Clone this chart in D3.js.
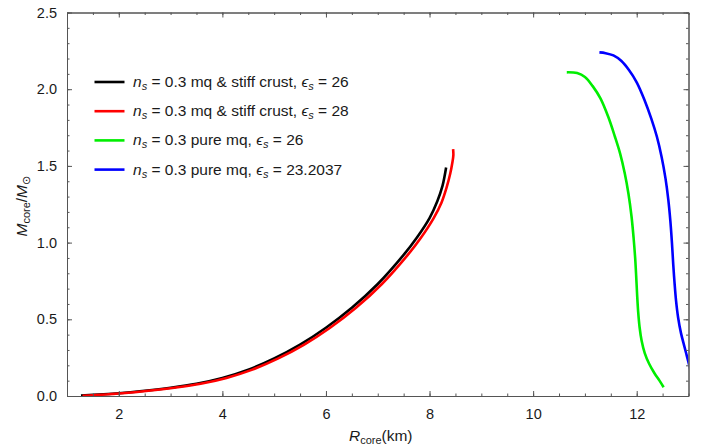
<!DOCTYPE html>
<html>
<head>
<meta charset="utf-8">
<script src="https://cdn.jsdelivr.net/npm/d3@7"></script>
<style>
  body { margin: 0; background: #fff; }
  svg { font-family: "Liberation Sans", Arial, sans-serif; }
</style>
</head>
<body>
<svg id="chart" width="701" height="447"></svg>
<script>
// ---- data ----
const blackR = [1.27, 2.0, 2.5, 3.0, 3.5, 4.0, 4.5, 5.0, 5.5, 6.0, 6.5, 7.0, 7.5, 7.75, 8.0, 8.15, 8.25, 8.32];
const blackM = [0.003, 0.018, 0.034, 0.054, 0.08, 0.118, 0.172, 0.245, 0.335, 0.445, 0.575, 0.73, 0.92, 1.03, 1.16, 1.27, 1.37, 1.49];

const redR = [1.3, 2.07, 2.57, 3.07, 3.58, 4.08, 4.58, 5.08, 5.58, 6.08, 6.58, 7.08, 7.58, 7.83, 8.08, 8.23, 8.33, 8.4, 8.44, 8.46, 8.455];
const redM = [0.001, 0.018, 0.034, 0.054, 0.08, 0.118, 0.172, 0.245, 0.335, 0.445, 0.575, 0.73, 0.92, 1.03, 1.16, 1.26, 1.36, 1.45, 1.52, 1.57, 1.61];

const greenR = [10.65, 10.85, 11.0, 11.15, 11.3, 11.45, 11.58, 11.68, 11.77, 11.84, 11.9, 11.94, 11.97, 11.99, 12.008, 12.028, 12.055, 12.095, 12.155, 12.24, 12.34, 12.44, 12.52];
const greenM = [2.11, 2.105, 2.08, 2.02, 1.94, 1.82, 1.69, 1.58, 1.45, 1.32, 1.17, 1.03, 0.9, 0.78, 0.66, 0.55, 0.45, 0.36, 0.28, 0.21, 0.15, 0.1, 0.057];

const blueR = [11.28, 11.4, 11.55, 11.7, 11.85, 12.0, 12.15, 12.28, 12.39, 12.48, 12.555, 12.61, 12.65, 12.68, 12.705, 12.73, 12.76, 12.8, 12.855, 12.915, 12.965, 13.01, 13.05];
const blueM = [2.24, 2.235, 2.22, 2.185, 2.125, 2.045, 1.93, 1.81, 1.69, 1.56, 1.42, 1.28, 1.14, 1.0, 0.86, 0.74, 0.62, 0.51, 0.41, 0.33, 0.265, 0.205, 0.15];

const seriesNames = ["a", "b", "c", "d"];
const seriesColors = ["#000000", "#ff0000", "#00ee00", "#0000ff"];
const legendLabels = [
  {pre: " = 0.3 mq & stiff crust, ", val: " = 26"},
  {pre: " = 0.3 mq & stiff crust, ", val: " = 28"},
  {pre: " = 0.3 pure mq, ", val: " = 26"},
  {pre: " = 0.3 pure mq, ", val: " = 23.2037"}
];

const xMajor = [2, 4, 6, 8, 10, 12];
const xMinor = d3.range(1, 13.01, 0.5);
const yMajor = [0, 0.5, 1.0, 1.5, 2.0, 2.5];
const yMinor = d3.range(0, 2.501, 0.1);

// ---- layout ----
const svg = d3.select("#chart");
const L = 67, R = 688.5, T = 12.5, B = 396;
const x = d3.scaleLinear().domain([1, 13]).range([L, R]);
const y = d3.scaleLinear().domain([0, 2.5]).range([B, T]);

const frameColor = "#555";
const labelColor = "#1a1a1a";

// clip
svg.append("defs").append("clipPath").attr("id", "clip")
  .append("rect").attr("x", L).attr("y", T).attr("width", R - L).attr("height", B - T);

// curves
const series = [
  blackR.map((r, i) => [r, blackM[i]]),
  redR.map((r, i) => [r, redM[i]]),
  greenR.map((r, i) => [r, greenM[i]]),
  blueR.map((r, i) => [r, blueM[i]])
];
const line = d3.line().x(d => x(d[0])).y(d => y(d[1])).curve(d3.curveCatmullRom.alpha(0.5));
svg.append("g").attr("clip-path", "url(#clip)")
  .selectAll("path").data(series).join("path")
  .attr("d", line)
  .attr("fill", "none")
  .attr("stroke", (d, i) => seriesColors[i])
  .attr("stroke-width", 2.6)
  .attr("stroke-linejoin", "round")
  .attr("stroke-linecap", "butt");

// axes (ticks inward)
function styleAxis(g) {
  g.select(".domain").attr("stroke", frameColor).attr("stroke-width", 1);
  g.selectAll(".tick line").attr("stroke", frameColor).attr("stroke-width", 1);
  g.selectAll(".tick text").attr("fill", labelColor).attr("font-size", 14.5)
    .attr("font-family", "Liberation Sans, Arial, sans-serif");
}
// bottom
svg.append("g").attr("transform", `translate(0,${B})`)
  .call(d3.axisBottom(x).tickValues(xMinor).tickSize(-2.5).tickFormat("").tickSizeOuter(0))
  .call(styleAxis);
svg.append("g").attr("transform", `translate(0,${B})`)
  .call(d3.axisBottom(x).tickValues(xMajor).tickSize(-5).tickPadding(13).tickFormat(d3.format("d")).tickSizeOuter(0))
  .call(styleAxis);
// top
svg.append("g").attr("transform", `translate(0,${T})`)
  .call(d3.axisTop(x).tickValues(xMinor).tickSize(-2.5).tickFormat("").tickSizeOuter(0))
  .call(styleAxis);
svg.append("g").attr("transform", `translate(0,${T})`)
  .call(d3.axisTop(x).tickValues(xMajor).tickSize(-5).tickFormat("").tickSizeOuter(0))
  .call(styleAxis);
// left
svg.append("g").attr("transform", `translate(${L},0)`)
  .call(d3.axisLeft(y).tickValues(yMinor).tickSize(-2.5).tickFormat("").tickSizeOuter(0))
  .call(styleAxis);
svg.append("g").attr("transform", `translate(${L},0)`)
  .call(d3.axisLeft(y).tickValues(yMajor).tickSize(-5).tickPadding(10).tickFormat(d3.format(".1f")).tickSizeOuter(0))
  .call(styleAxis);
// right
svg.append("g").attr("transform", `translate(${R},0)`)
  .call(d3.axisRight(y).tickValues(yMinor).tickSize(-2.5).tickFormat("").tickSizeOuter(0))
  .call(styleAxis);
svg.append("g").attr("transform", `translate(${R},0)`)
  .call(d3.axisRight(y).tickValues(yMajor).tickSize(-5).tickFormat("").tickSizeOuter(0))
  .call(styleAxis);

// axis titles
const xt = svg.append("text").attr("x", (L + R) / 2 + 3).attr("y", 440.5)
  .attr("text-anchor", "middle").attr("font-size", 15.5).attr("fill", labelColor);
xt.append("tspan").attr("font-style", "italic").text("R");
xt.append("tspan").attr("font-size", 11).attr("dy", 3).text("core");
xt.append("tspan").attr("dy", -3).text("(km)");

const yt = svg.append("text").attr("transform", `translate(27,${(T + B) / 2 + 2}) rotate(-90)`)
  .attr("text-anchor", "middle").attr("font-size", 15.5).attr("fill", labelColor);
yt.append("tspan").attr("font-style", "italic").text("M");
yt.append("tspan").attr("font-size", 11).attr("dy", 3).text("core");
yt.append("tspan").attr("dy", -3).text("/");
yt.append("tspan").attr("font-style", "italic").text("M");
yt.append("tspan").attr("font-size", 11).attr("dy", 3).text("\u2299");

// legend
const legY0 = 82, legDy = 29.2;
const leg = svg.append("g");
seriesNames.forEach((n, i) => {
  const yy = legY0 + i * legDy;
  leg.append("line").attr("x1", 94.5).attr("x2", 124.5).attr("y1", yy).attr("y2", yy)
    .attr("stroke", seriesColors[i]).attr("stroke-width", 2.6);
  const t = leg.append("text").attr("x", 133).attr("y", yy + 5)
    .attr("font-size", 15.5).attr("fill", labelColor);
  t.append("tspan").attr("font-style", "italic").text("n");
  t.append("tspan").attr("font-style", "italic").attr("font-size", 11).attr("dy", 3).text("s");
  t.append("tspan").attr("dy", -3).text(legendLabels[i].pre);
  t.append("tspan").attr("font-style", "italic").text("\u03F5");
  t.append("tspan").attr("font-style", "italic").attr("font-size", 11).attr("dy", 3).text("s");
  t.append("tspan").attr("dy", -3).text(legendLabels[i].val);
});
</script>
</body>
</html>
